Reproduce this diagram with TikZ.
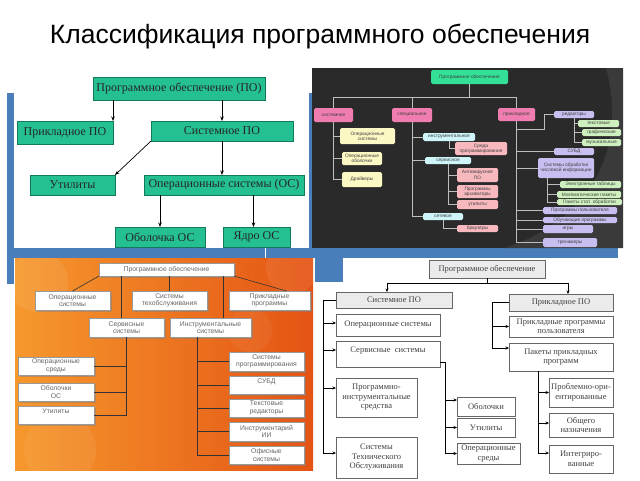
\documentclass[tikz,border=0pt]{standalone}
\usepackage{fontspec}
\setmainfont{Liberation Serif}
\setsansfont{Liberation Sans}
\usetikzlibrary{arrows.meta,shadows,calc}
\definecolor{tplblue}{RGB}{74,126,187}
\definecolor{p1green}{RGB}{36,192,145}
\definecolor{p1edge}{RGB}{20,120,90}
\definecolor{p2bg}{RGB}{42,42,42}
\definecolor{p2arc}{RGB}{58,58,58}
\definecolor{p2green}{RGB}{50,225,150}
\definecolor{p2pinkc}{RGB}{240,125,175}
\definecolor{p2lpinkc}{RGB}{248,185,190}
\definecolor{p2yelc}{RGB}{252,248,195}
\definecolor{p2cyanc}{RGB}{205,245,250}
\definecolor{p2lavc}{RGB}{200,190,240}
\definecolor{p2lgrc}{RGB}{205,240,190}
\definecolor{p2line}{RGB}{190,190,190}
\definecolor{orA}{RGB}{246,152,45}
\definecolor{orB}{RGB}{228,84,20}
\newcommand\mkbox[7]{%
  \pgfmathsetmacro\mkbw{#4-#2}%
  \pgfmathsetmacro\mkbh{#5-#3}%
  \pgfmathsetmacro\mkbx{(#2+#4)/2}%
  \pgfmathsetmacro\mkby{(#3+#5)/2}%
  \node[#6, minimum width=\mkbw pt, minimum height=\mkbh pt, inner sep=0pt, outer sep=0pt] (#1) at (\mkbx,\mkby) {#7};}
\begin{document}
\begin{tikzpicture}[x=1pt,y=-1pt,
  g1/.style={fill=p1green, draw=p1edge, line width=0.4pt, font=\fontsize{12}{13}\selectfont, text=black!85},
  a1/.style={draw=black, line width=0.7pt, -{Stealth[length=4.5pt,width=3.5pt]}},
  p2box/.style={rounded corners=1.5pt, font=\sffamily\fontsize{4.8}{5.3}\selectfont, text=black!75, align=center},
  p2root/.style={p2box, fill=p2green},
  p2pink/.style={p2box, fill=p2pinkc},
  p2lpink/.style={p2box, fill=p2lpinkc},
  p2yel/.style={p2box, fill=p2yelc},
  p2cyan/.style={p2box, fill=p2cyanc},
  p2lav/.style={p2box, fill=p2lavc},
  p2lgr/.style={p2box, fill=p2lgrc},
  l2/.style={draw=p2line, line width=0.9pt},
  b3/.style={fill=white, draw=black!40, line width=0.3pt, drop shadow={opacity=0.45, shadow xshift=1.5pt, shadow yshift=-1.5pt}, font=\sffamily\fontsize{6.8}{7.6}\selectfont, text=black!60, align=center},
  l3/.style={draw=black!80, line width=0.6pt},
  b4/.style={draw=black!60, line width=0.4pt, fill=white, font=\fontsize{8.5}{9.5}\selectfont, text=black!75, align=center},
  b4g/.style={b4, fill=black!8},
  a4/.style={draw=black, line width=0.5pt, -{Stealth[length=3.5pt,width=3pt]}}
]
\useasboundingbox (0,0) rectangle (640,480);
% title
\node[font=\sffamily\fontsize{26.5}{30}\selectfont, anchor=base] (title) at (320,43) {Классификация программного обеспечения};
% template bars
\fill[tplblue] (7,93) rectangle (14,284);
\fill[tplblue] (7,248) rectangle (618,258);
\fill[white] (264.5,248) rectangle (266,258);
\fill[tplblue] (309,93) rectangle (313,250);
\fill[tplblue] (315,250) rectangle (343,282);
\fill[white] (343,258) rectangle (620,480);
\fill[white] (318,282) rectangle (343,480);

% ===== panel 1 =====
\mkbox{p1root}{93}{77}{265}{100}{g1}{Программное обеспечение (ПО)}
\mkbox{p1app}{17}{121}{113}{144}{g1}{Прикладное ПО}
\mkbox{p1sys}{151}{121}{293}{141}{g1}{Системное ПО}
\mkbox{p1util}{30}{175}{115}{195}{g1}{Утилиты}
\mkbox{p1os}{144}{175}{304}{195}{g1}{Операционные системы (ОС)}
\mkbox{p1sh}{115}{227}{205}{247}{g1}{Оболочка ОС}
\mkbox{p1core}{223}{227}{290}{247}{g1}{Ядро ОС}
\draw[a1] (p1app.north east |- p1root.south) -- (p1app.north east);
\draw[a1] (p1sys.north |- p1root.south) -- (p1sys.north);
\draw[a1] (p1sys.south west) -- (p1util.north east);
\draw[a1] (p1sys.south) -- (p1sys.south |- p1os.north);
\draw[a1] (p1sh.north |- p1os.south) -- (p1sh.north);
\draw[a1] ($(p1core.north |- p1os.south)+(-3,0)$) -- ($(p1core.north)+(-3,0)$);

% ===== panel 2 =====
\begin{scope}
\clip (312,68) rectangle (623,248);
\fill[p2bg] (312,68) rectangle (623,248);
\fill[p2arc] (606,68) .. controls (628,150) and (590,220) .. (505,248) -- (623,248) -- (623,68) -- cycle;
\end{scope}
\mkbox{p2root}{431}{70}{508}{84}{p2root}{Программное обеспечение}
\mkbox{p2sys}{314}{108}{353}{122}{p2pink}{системное}
\mkbox{p2spec}{392}{108}{432}{122}{p2pink}{специальное}
\mkbox{p2app}{498}{108}{535}{121}{p2pink}{прикладное}
\mkbox{p2os}{340}{128}{395}{144}{p2yel}{Операционные\\системы}
\mkbox{p2sh}{342}{152}{382}{165}{p2yel}{Операционные\\оболочки}
\mkbox{p2drv}{342}{172}{382}{187}{p2yel}{Драйверы}
\mkbox{p2instr}{423}{133}{475}{141}{p2cyan}{инструментальное}
\mkbox{p2serv}{425}{157}{471}{164}{p2cyan}{сервисное}
\mkbox{p2net}{423}{213}{463}{220}{p2cyan}{сетевое}
\mkbox{p2env}{455}{142}{507}{155}{p2lpink}{Среда\\программирования}
\mkbox{p2av}{457}{168}{498}{182}{p2lpink}{Антивирусное\\ПО}
\mkbox{p2arch}{457}{185}{498}{198}{p2lpink}{Программы\\архиваторы}
\mkbox{p2util}{457}{200}{498}{209}{p2lpink}{утилиты}
\mkbox{p2br}{457}{225}{498}{232}{p2lpink}{браузеры}
\mkbox{p2ed}{554}{111}{594}{118}{p2lav}{редакторы}
\mkbox{p2txt}{578}{120}{619}{127}{p2lgr}{текстовые}
\mkbox{p2gr}{582}{129}{621}{136}{p2lgr}{графические}
\mkbox{p2mus}{582}{139}{621}{146}{p2lgr}{музыкальные}
\mkbox{p2db}{554}{148}{594}{155}{p2lav}{СУБД}
\mkbox{p2num}{538}{158}{594}{178}{p2lav}{Системы обработки\\числовой информации}
\mkbox{p2et}{560}{181}{621}{188}{p2lgr}{Электронные таблицы}
\mkbox{p2math}{557}{191}{621}{198}{p2lgr}{Математические пакеты}
\mkbox{p2stat}{557}{199}{622}{205}{p2lgr}{Пакеты стат. обработки}
\mkbox{p2usr}{543}{207}{617}{214}{p2lav}{Программы пользователя}
\mkbox{p2edu}{543}{217}{617}{223}{p2lav}{Обучающие программы}
\mkbox{p2game}{543}{225}{593}{233}{p2lav}{игры}
\mkbox{p2trn}{543}{238}{597}{247}{p2lav}{тренажеры}
\draw[l2] (p2root.south) -- ++(0,13) -| (p2sys.north);
\draw[l2] (p2root.south) -- ++(0,13) -| (p2spec.north);
\draw[l2] (p2root.south) -- ++(0,13) -| (p2app.north);
\foreach \c in {p2os,p2sh,p2drv} \draw[l2] (p2sys.south) |- (\c.west);
\foreach \c in {p2instr,p2serv,p2net} \draw[l2] (p2spec.south) |- (\c.west);
\draw[l2] (p2instr.south) |- (p2env.west);
\foreach \c in {p2av,p2arch,p2util} \draw[l2] (p2serv.south) |- (\c.west);
\draw[l2] (p2net.south) |- (p2br.west);
\draw[l2] (p2app.south) -- ++(0,8) -- ++(28,0) |- (p2ed.west);
\foreach \c in {p2txt,p2gr,p2mus} \draw[l2] (p2ed.south) |- (\c.west);
\foreach \c in {p2db,p2num,p2usr,p2edu,p2game,p2trn} \draw[l2] (p2app.south) |- (\c.west);
\foreach \c in {p2et,p2math,p2stat} \draw[l2] ($(p2num.south west)+(9,0)$) |- (\c.west);

% ===== panel 3 =====
\shade[left color=orA, right color=orB] (15,258) rectangle (313,470);
\begin{scope}
\clip (15,258) rectangle (313,470);
\fill[white, opacity=0.08] (38,282) circle (30);
\fill[white, opacity=0.07] (292,268) circle (26);
\fill[white, opacity=0.06] (60,450) circle (36);
\fill[white, opacity=0.05] (250,330) circle (22);
\end{scope}
\mkbox{p3root}{99}{263}{234}{276}{b3}{Программное обеспечение}
\mkbox{p3os}{35}{291}{110}{310}{b3}{Операционные\\системы}
\mkbox{p3tech}{132}{291}{207}{310}{b3}{Системы\\техобслуживания}
\mkbox{p3app}{229}{291}{310}{310}{b3}{Прикладные\\программы}
\mkbox{p3serv}{89}{318}{164}{337}{b3}{Сервисные\\системы}
\mkbox{p3instr}{170}{318}{251}{337}{b3}{Инструментальные\\системы}
\mkbox{p3env}{18}{357}{94}{375}{b3}{Операционные\\среды}
\mkbox{p3sh}{18}{383}{94}{401}{b3}{Оболочки\\ОС}
\mkbox{p3ut}{18}{406}{94}{424}{b3}{Утилиты\\\mbox{}}
\mkbox{p3prog}{229}{352}{304}{371}{b3}{Системы\\программирования}
\mkbox{p3db}{229}{376}{304}{394}{b3}{СУБД\\\mbox{}}
\mkbox{p3ted}{229}{399}{304}{417}{b3}{Текстовые\\редакторы}
\mkbox{p3ai}{229}{422}{304}{441}{b3}{Инструментарий\\ИИ}
\mkbox{p3off}{229}{446}{304}{464}{b3}{Офисные\\системы}
\draw[l3] (p3root.south west) -- (p3os.north);
\draw[l3] (p3root.south east) -- ([xshift=17pt]p3app.north);
\draw[l3] ($(p3serv.north |- p3root.south)+(-5,0)$) -- ($(p3serv.north)+(-5,0)$);
\draw[l3] (p3tech.north |- p3root.south) -- (p3tech.north);
\draw[l3] ($(p3instr.north |- p3root.south)+(12.5,0)$) -- ($(p3instr.north)+(12.5,0)$);
\foreach \c in {p3env,p3sh,p3ut} \draw[l3] (p3serv.south) |- (\c.east);
\foreach \c in {p3prog,p3db,p3ted,p3ai,p3off} \draw[l3] ($(p3instr.south)+(-13.5,0)$) |- (\c.west);

% ===== panel 4 =====
\mkbox{p4root}{429}{260}{545}{278}{b4g}{Программное обеспечение}
\mkbox{p4sys}{336}{292}{452}{308}{b4g}{Системное ПО}
\mkbox{p4app}{509}{294}{613}{311}{b4g}{Прикладное ПО}
\mkbox{p4os}{336}{314}{440}{336}{b4}{Операционные системы}
\mkbox{p4serv}{336}{341}{440}{367}{b4}{Сервисные\ \ системы\\\mbox{}}
\mkbox{p4pis}{336}{378}{417}{417}{b4}{Программно-\\инструментальные\\средства}
\mkbox{p4sto}{336}{437}{417}{478}{b4}{Системы\\Технического\\Обслуживания}
\mkbox{p4sh}{457}{397}{515}{416}{b4}{Оболочки}
\mkbox{p4ut}{457}{418}{515}{437}{b4}{Утилиты}
\mkbox{p4env}{457}{443}{520}{464}{b4}{Операционные\\среды}
\mkbox{p4upp}{509}{316}{613}{337}{b4}{Прикладные программы\\пользователя}
\mkbox{p4pkg}{509}{343}{613}{371}{b4}{Пакеты прикладных\\программ}
\mkbox{p4prob}{549}{378}{613}{407}{b4}{Проблемно-ори-\\ентированные}
\mkbox{p4gen}{549}{413}{613}{437}{b4}{Общего\\назначения}
\mkbox{p4int}{549}{445}{613}{473}{b4}{Интегриро-\\ванные}
\draw[a4] (p4root.south) -- ++(0,5) -| ([xshift=-7pt]p4sys.north);
\draw[a4] (p4root.south) -- ++(0,5) -| ([xshift=7pt]p4app.north);
\foreach \c/\s in {p4os/2,p4serv/4,p4pis/9.5,p4sto/4.5} \draw[a4] (p4sys.west) -- ++(-13,0) |- ([yshift=\s pt]\c.west);
\foreach \c/\s in {p4sh/6.5,p4ut/0,p4env/0} \draw[a4] ([yshift=-8pt]p4serv.east) -- ++(5,0) |- ([yshift=\s pt]\c.west);
\draw[a4] (p4app.west) -- ++(-17,0) |- (p4upp.west);
\draw[a4] (p4app.west) -- ++(-17,0) |- ([yshift=9pt]p4pkg.west);
\foreach \c/\s in {p4prob/0,p4gen/2,p4int/6} \draw[a4] ([xshift=29pt]p4pkg.south west) |- ([yshift=\s pt]\c.west);
\end{tikzpicture}
\end{document}
